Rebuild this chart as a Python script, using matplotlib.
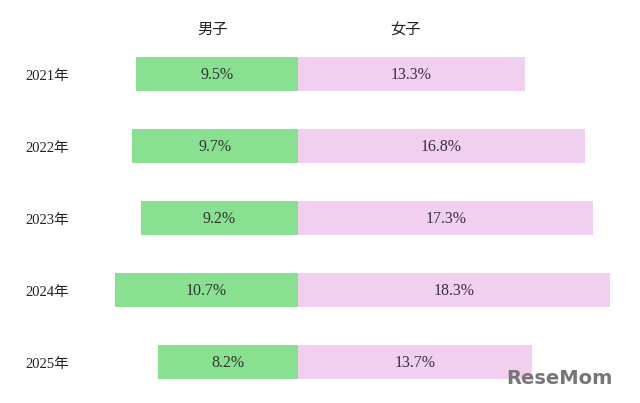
import matplotlib
matplotlib.use("Agg")
import matplotlib.pyplot as plt

years = ["2021年", "2022年", "2023年", "2024年", "2025年"]
boys = [9.5, 9.7, 9.2, 10.7, 8.2]
girls = [13.3, 16.8, 17.3, 18.3, 13.7]

plt.rcParams['font.family'] = ['Liberation Serif', 'Noto Sans CJK JP', 'DejaVu Sans']

fig = plt.figure(figsize=(6.4, 4.03), dpi=100)
ax = fig.add_axes([0, 0, 1, 1])

# pixel -> data mapping: centre line at x=298px, ~17.07 px per %
px = 17.07
ax.set_xlim(-298 / px, (640 - 298) / px)
ax.set_ylim((403 - 74) / 72, -74 / 72)
ax.axis('off')

rows = range(len(years))
ax.barh(rows, [-b for b in boys], height=0.46, color='#88e090')
ax.barh(rows, girls, height=0.46, color='#f0d0ee')

for i in rows:
    ax.text(-boys[i] / 2, i + 0.02, f"{boys[i]}%", ha='center', va='center',
            fontsize=11.5, color='#333333')
    ax.text(girls[i] / 2, i + 0.02, f"{girls[i]}%", ha='center', va='center',
            fontsize=11.5, color='#3a3040')
    ax.text(-16.0, i + 0.04, years[i], ha='left', va='center', fontsize=10.5,
            color='#222222')

ax.text(-5.0, -0.6, "男子", ha='center', va='center', fontsize=11, color='#222222')
ax.text(6.3, -0.6, "女子", ha='center', va='center', fontsize=11, color='#222222')

fig.text(0.958, 0.06, "ReseMom", ha='right', va='center', fontsize=14,
         fontweight='bold', family='DejaVu Sans', color='#777777')

fig.savefig("out.png", dpi=100)
